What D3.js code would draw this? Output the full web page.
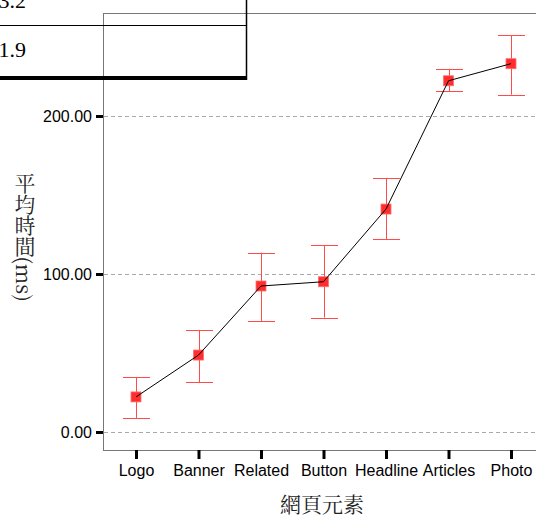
<!DOCTYPE html>
<html>
<head>
<meta charset="utf-8">
<script src="https://cdn.jsdelivr.net/npm/d3@7"></script>
<style>
  html, body { margin: 0; padding: 0; background: #fff; }
  svg { display: block; }
</style>
</head>
<body>
<svg id="chart" width="536" height="518"></svg>
<script>
// Page elements and mean load time (ms) with error-bar bounds
const categories = ["Logo", "Banner", "Related", "Button", "Headline", "Articles", "Photo"];
const means = [22.2, 48.7, 92.4, 95.1, 141.1, 222.3, 233.1];
const upper = [34.8, 64.6, 113.5, 118.2, 160.6, 229.9, 251.1];
const lower = [8.9, 31.6, 70.3, 72.4, 122.2, 215.6, 213.5];
const yTicks = [0, 100, 200];
const tableValues = ["3.2", "1.9"];

const svg = d3.select("#chart");
const frame = { left: 103, top: 13, right: 545, bottom: 450 };

const x = d3.scalePoint().domain(categories).range([136, 511]);
const y = d3.scaleLinear().domain([0, 100]).range([432, 274]);

const sans = "'Liberation Sans', Arial, sans-serif";
const cjk = "'Noto Serif CJK TC', 'Noto Sans CJK TC', sans-serif";

// Plot frame
svg.append("rect")
  .attr("x", frame.left + 0.5).attr("y", frame.top + 0.5)
  .attr("width", frame.right - frame.left).attr("height", frame.bottom - frame.top)
  .attr("fill", "none").attr("stroke", "#777").attr("stroke-width", 1);

// Dashed reference lines
svg.append("g").selectAll("line").data(yTicks).join("line")
  .attr("x1", frame.left + 1).attr("x2", frame.right)
  .attr("y1", d => Math.round(y(d)) + 0.5).attr("y2", d => Math.round(y(d)) + 0.5)
  .attr("stroke", "#aaa").attr("stroke-dasharray", "4,3");

// Y axis
const yAxis = d3.axisLeft(y).tickValues(yTicks).tickFormat(d3.format(".2f"))
  .tickSize(7).tickPadding(4);
const yg = svg.append("g").attr("transform", `translate(${frame.left},0)`).call(yAxis);
yg.select(".domain").remove();
yg.selectAll(".tick line").attr("stroke", "#000").attr("stroke-width", 3);
yg.selectAll(".tick text").attr("font-family", sans).attr("font-size", 16).attr("fill", "#000");

// X axis
const xAxis = d3.axisBottom(x).tickSize(9).tickPadding(6);
const xg = svg.append("g").attr("transform", `translate(0,${frame.bottom})`).call(xAxis);
xg.select(".domain").remove();
xg.selectAll(".tick line").attr("stroke", "#000").attr("stroke-width", 3);
xg.selectAll(".tick text").attr("font-family", sans).attr("font-size", 16).attr("fill", "#000");

// Axis titles
svg.append("text")
  .attr("x", 322).attr("y", 505)
  .attr("dy", "0.35em")
  .attr("text-anchor", "middle")
  .attr("font-family", cjk).attr("font-size", 21).attr("fill", "#222")
  .text("網頁元素");

svg.append("text")
  .attr("x", 25).attr("y", 237)
  .attr("text-anchor", "middle")
  .style("writing-mode", "vertical-rl")
  .attr("font-family", cjk).attr("font-size", 21).attr("fill", "#222")
  .text("平均時間(ms)");

// Error bars
const data = categories.map((c, i) => ({ c, m: means[i], hi: upper[i], lo: lower[i] }));
const eb = svg.append("g").attr("stroke", "#ff4a4a").attr("stroke-width", 1);
const cap = 13.5;
data.forEach(d => {
  const cx = Math.round(x(d.c)) + 0.5;
  eb.append("line").attr("x1", cx).attr("x2", cx).attr("y1", y(d.hi)).attr("y2", y(d.lo));
  eb.append("line").attr("x1", cx - cap).attr("x2", cx + cap)
    .attr("y1", Math.round(y(d.hi)) + 0.5).attr("y2", Math.round(y(d.hi)) + 0.5);
  eb.append("line").attr("x1", cx - cap).attr("x2", cx + cap)
    .attr("y1", Math.round(y(d.lo)) + 0.5).attr("y2", Math.round(y(d.lo)) + 0.5);
});

// Markers
svg.append("g").selectAll("rect").data(data).join("rect")
  .attr("x", d => x(d.c) - 5).attr("y", d => y(d.m) - 5)
  .attr("width", 10).attr("height", 10)
  .attr("fill", "#ff2d2d").attr("stroke", "#ff7070").attr("stroke-width", 0.8);

// Mean line
svg.append("path")
  .datum(data)
  .attr("d", d3.line().x(d => x(d.c)).y(d => y(d.m)))
  .attr("fill", "none").attr("stroke", "#000").attr("stroke-width", 1);

// Overlapping summary table fragment
const tbl = svg.append("g");
tbl.append("line").attr("x1", 0).attr("x2", 247).attr("y1", 25.5).attr("y2", 25.5)
  .attr("stroke", "#000").attr("stroke-width", 1);
tbl.append("line").attr("x1", 246.5).attr("x2", 246.5).attr("y1", 0).attr("y2", 80)
  .attr("stroke", "#000").attr("stroke-width", 1.5);
tbl.append("rect").attr("x", 0).attr("y", 76).attr("width", 247).attr("height", 4).attr("fill", "#000");
tbl.selectAll("text").data(tableValues).join("text")
  .attr("x", 26).attr("y", (d, i) => [8, 57][i])
  .attr("text-anchor", "end")
  .attr("font-family", "'Liberation Serif', 'Times New Roman', serif")
  .attr("font-size", 22).attr("fill", "#000")
  .text(d => d);
</script>
</body>
</html>
